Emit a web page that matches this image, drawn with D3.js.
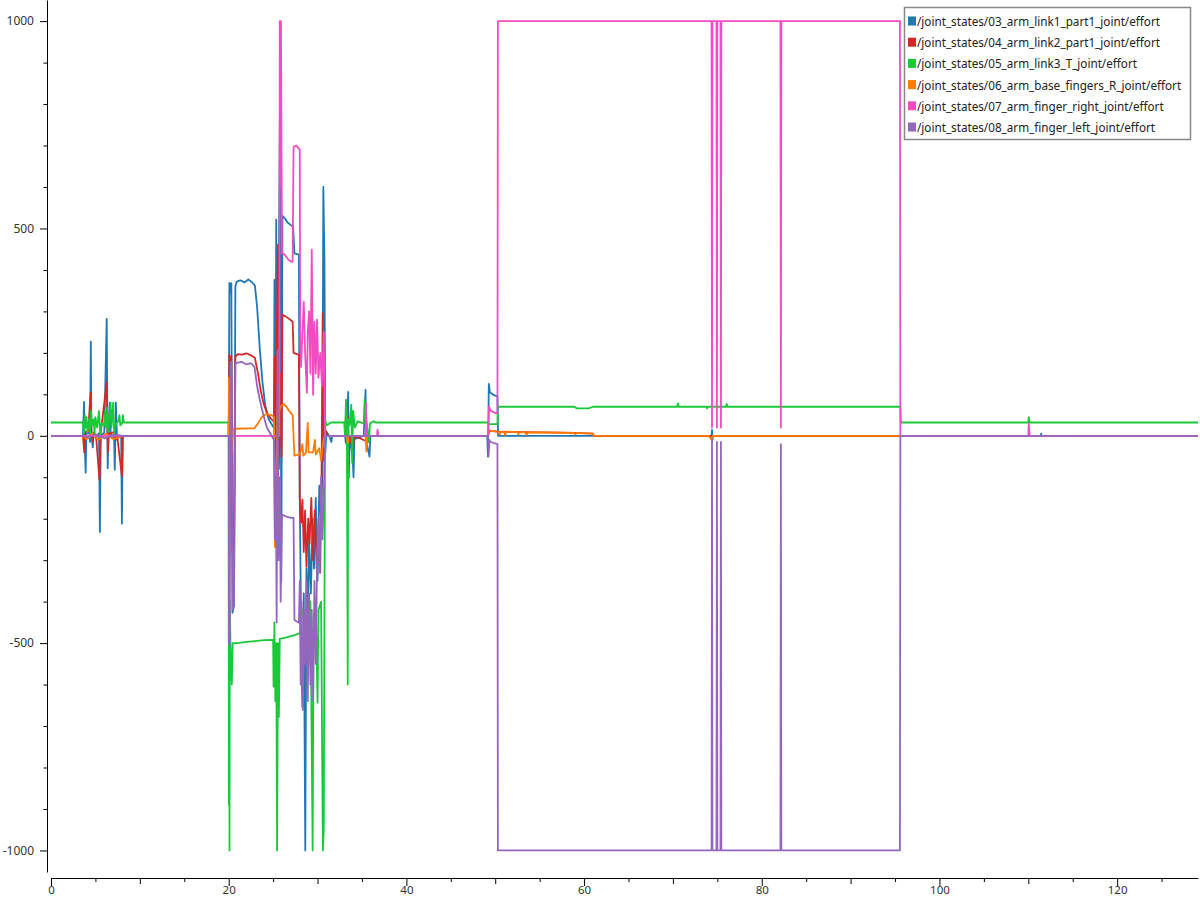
<!DOCTYPE html>
<html><head><meta charset="utf-8">
<script src="https://cdn.jsdelivr.net/npm/d3@7"></script>
<style>body{margin:0;background:#fff;} svg{display:block;font-family:"Noto Sans",sans-serif;}</style>
</head><body><svg id="c" width="1200" height="900"></svg>
<script>
const seriesNames = [
  "/joint_states/03_arm_link1_part1_joint/effort",
  "/joint_states/04_arm_link2_part1_joint/effort",
  "/joint_states/05_arm_link3_T_joint/effort",
  "/joint_states/06_arm_base_fingers_R_joint/effort",
  "/joint_states/07_arm_finger_right_joint/effort",
  "/joint_states/08_arm_finger_left_joint/effort"
];
const seriesColors = ["#1f77b4","#d62728","#1ac938","#ff7c00","#f14cc1","#9467bd"];

// [time (s), effort]
const link1 = [[0,0],[3.6,0],[3.72,82],[3.78,-5],[3.9,-89],[3.98,5],[4.3,8],[4.4,-15],[4.48,227],[4.55,8],[4.7,-28],[4.8,4],[5.1,-5],[5.4,6],[5.5,-232],[5.6,0],[6.0,8],[6.27,282],[6.38,-78],[6.48,8],[6.62,80],[6.72,4],[7.1,-5],[7.18,-82],[7.3,80],[7.42,0],[7.9,-5],[7.98,-212],[8.08,0],[8.3,0],
[20.0,0],[20.08,369],[20.2,345],[20.3,368],[20.42,-427],[20.6,-410],[20.75,360],[20.9,372],[21.3,375],[21.8,370],[22.2,377],[22.6,371],[22.95,362],[23.2,310],[23.5,210],[23.8,130],[24.1,75],[24.5,40],[25.0,22],[25.1,20],[25.15,376],[25.25,-120],[25.35,521],[25.45,-250],[25.6,250],[25.8,900],[25.92,-350],[26.05,530],[26.3,525],[26.6,515],[27.0,508],[27.25,504],[27.4,440],[27.9,437],[28.0,-150],[28.2,-560],[28.3,-654],[28.45,-380],[28.62,-1000],[28.75,-320],[28.9,-450],[29.05,-250],[29.25,-380],[29.45,-200],[29.6,-320],[29.8,-150],[30.0,-350],[30.2,-120],[30.4,-200],[30.55,-80],[30.65,600],[30.78,420],[30.88,-40],[31.0,10],[31.3,0],[31.55,-15],[31.65,0],[33.1,0],[33.18,-17],[33.28,0],[33.45,106],[33.52,-101],[33.62,0],[33.95,-50],[34.05,-100],[34.15,-8],[35.2,0],[35.4,111],[35.5,-15],[35.85,-50],[35.95,0],[37.0,0],
[49.1,0],[49.18,-50],[49.28,125],[49.4,105],[49.7,100],[50.0,97],[50.25,95],[50.32,0],[74.35,0],[74.4,14],[74.45,-10],[74.5,0],[111.4,0],[111.45,5],[111.5,0],[129.1,0]];

const link2 = [[0,0],[3.6,0],[3.75,-41],[3.85,8],[4.2,12],[4.45,104],[4.55,5],[4.7,-15],[4.8,8],[5.1,-8],[5.45,-106],[5.58,5],[6.27,128],[6.4,-39],[6.5,5],[7.0,8],[7.3,-10],[7.45,0],[7.98,-98],[8.08,0],
[20.0,0],[20.08,195],[20.2,180],[20.3,192],[20.42,-280],[20.6,-250],[20.75,190],[21.0,197],[21.5,196],[22.0,199],[22.5,194],[22.95,188],[23.3,150],[23.6,110],[23.9,80],[24.3,55],[24.8,40],[25.1,34],[25.18,190],[25.28,-60],[25.4,200],[25.55,461],[25.65,-80],[25.8,150],[25.95,-50],[26.05,292],[26.4,288],[26.8,282],[27.2,275],[27.3,200],[27.9,195],[28.0,-150],[28.15,-210],[28.3,-154],[28.45,-280],[28.6,-180],[28.75,-316],[28.95,-200],[29.1,-260],[29.3,-150],[29.5,-300],[29.7,-180],[29.9,-320],[30.1,-230],[30.3,-330],[30.45,-100],[30.58,296],[30.7,-60],[30.85,15],[31.2,0],[33.1,0],[33.2,55],[33.3,-30],[33.4,45],[33.5,-50],[33.6,0],[34.0,-35],[34.1,0],[35.7,-15],[35.85,0],
[49.2,0],[49.3,12],[50.3,10],[58.9,7],[61.0,5],[61.1,0],[129.1,0]];

const link3 = [[0,32],[3.6,32],[3.7,5],[3.8,50],[3.9,20],[4.0,45],[4.1,10],[4.3,40],[4.4,0],[4.5,60],[4.6,25],[4.8,40],[4.9,5],[5.0,45],[5.2,20],[5.4,60],[5.55,0],[5.7,30],[6.0,25],[6.1,60],[6.2,20],[6.3,67],[6.45,10],[6.55,40],[6.7,80],[6.8,20],[7.0,80],[7.1,5],[7.3,30],[7.6,35],[7.7,50],[7.8,25],[8.0,30],[8.1,50],[8.2,32],
[20.0,32],[20.02,-890],[20.06,-500],[20.09,-1000],[20.13,-400],[20.2,-505],[20.35,-600],[20.45,-500],[21.0,-500],[22.0,-497],[23.0,-495],[24.0,-493],[25.0,-492],[25.05,-605],[25.15,-450],[25.25,-640],[25.35,-500],[25.45,-1000],[25.55,-500],[25.65,-678],[25.75,-490],[26.5,-486],[27.5,-480],[28.0,-476],[28.15,-450],[28.3,-420],[28.6,-440],[28.9,-430],[29.2,-400],[29.45,-1000],[29.55,-440],[29.8,-410],[30.0,-644],[30.1,-420],[30.4,-400],[30.6,-1000],[30.7,-950],[30.85,40],[31.0,25],[31.5,32],
[33.0,32],[33.1,0],[33.2,87],[33.3,20],[33.4,-600],[33.45,40],[33.6,25],[33.8,75],[33.9,-65],[34.0,60],[34.2,20],[34.5,35],[35.2,30],[35.3,87],[35.4,50],[35.6,20],[35.8,-15],[35.9,30],[36.3,35],[36.5,32],
[49.1,32],[49.4,28],[50.25,28],[50.3,70],[58.9,70],[59.2,66],[60.5,66],[61.0,70],[70.5,70],[70.55,78],[70.65,70],[73.8,70],[73.85,66],[73.95,70],[76.0,70],[76.05,77],[76.15,70],[95.6,70],[95.65,32],[110.0,32],[110.05,45],[110.15,32],[129.1,32]];

const fingersR = [[0,0],[3.6,0],[4.0,-8],[4.6,6],[5.3,-10],[6.2,5],[7.0,-8],[8.1,0],
[20.0,0],[20.03,140],[20.1,0],[20.3,-50],[20.5,17],[21,17],[22,18],[22.9,18],[23.3,30],[23.7,45],[24.2,52],[24.8,50],[25.1,45],[25.2,-268],[25.35,-100],[25.5,70],[25.6,20],[25.7,60],[25.9,72],[26.2,76],[26.5,70],[26.8,60],[27.2,50],[27.4,-48],[28.0,-45],[28.3,-20],[28.4,-48],[28.7,-40],[28.9,31],[29.0,-40],[29.5,-40],[29.7,-10],[29.8,-45],[30.2,-30],[30.4,-60],[30.6,-20],[30.8,0],[33.3,0],[33.4,-17],[33.5,0],[35.4,0],[35.5,-38],[35.6,0],
[49.2,0],[49.3,14],[49.5,12],[50.3,10],[50.5,3],[50.6,10],[51.0,10],[51.1,2],[51.3,10],[52.5,9],[52.6,3],[52.7,9],[53.4,8],[53.5,2],[53.7,8],[56.0,8],[58.9,7],[59.0,3],[59.2,7],[61.0,5],[61.1,0],[74.0,0],[74.3,-8],[74.5,0],[129.1,0]];

const fingerRight = [[0,0],[25.7,0],[25.75,1000],[25.82,600],[25.88,1000],[26.0,440],[26.3,437],[26.7,425],[27.0,420],[27.2,420],[27.3,697],[27.6,700],[28.0,690],[28.05,224],[28.15,166],[28.3,250],[28.45,323],[28.6,200],[28.8,104],[28.9,250],[29.05,300],[29.2,150],[29.35,449],[29.5,99],[29.65,275],[29.8,150],[29.95,280],[30.1,140],[30.3,200],[30.5,120],[30.7,250],[30.85,0],[35.4,0],[35.45,80],[35.55,0],[36.7,0],[36.75,15],[36.85,0],
[49.2,0],[49.3,70],[49.5,60],[50.0,55],[50.25,55],[50.3,1000],[74.35,1000],[74.4,20],[74.45,1000],[74.9,1000],[74.95,20],[75.0,1000],[75.35,1000],[75.4,20],[75.45,1000],[82.1,1000],[82.15,20],[82.2,1000],[95.55,1000],[95.6,0],[110.0,0],[110.05,30],[110.15,0],[129.1,0]];

const fingerLeft = [[0,0],[3.6,0],[4.2,-5],[5.0,4],[6.0,-6],[7.2,3],[8.1,0],
[20.0,0],[20.02,-500],[20.08,-100],[20.12,-508],[20.2,170],[20.3,178],[20.45,-420],[20.6,-400],[20.75,175],[21.5,178],[22.0,172],[22.5,175],[22.9,166],[23.2,120],[23.5,87],[23.9,50],[24.3,20],[24.7,5],[25.1,-10],[25.2,-250],[25.3,-100],[25.4,-450],[25.5,207],[25.6,-300],[25.75,-100],[25.85,-400],[26.0,-190],[26.5,-195],[27.0,-198],[27.3,-198],[27.4,-444],[27.9,-451],[28.0,-350],[28.1,-600],[28.2,-400],[28.35,-661],[28.5,-420],[28.6,-550],[28.75,-350],[28.9,-640],[29.05,-380],[29.2,-600],[29.35,-420],[29.5,-640],[29.65,-350],[29.8,-550],[29.95,-300],[30.1,-200],[30.25,-330],[30.4,-100],[30.55,-250],[30.7,-150],[30.85,0],
[49.2,0],[49.25,-50],[49.35,-10],[49.5,-15],[50.25,-20],[50.3,-1000],[74.35,-1000],[74.4,-10],[74.45,-1000],[74.9,-1000],[74.95,-15],[75.0,-1000],[75.35,-1000],[75.4,-15],[75.45,-1000],[82.1,-1000],[82.15,-20],[82.2,-1000],[95.55,-1000],[95.6,0],[129.1,0]];

const seriesData = [link1, link2, link3, fingersR, fingerRight, fingerLeft];

const xMajorTicks = [0,20,40,60,80,100,120];
const xMediumTicks = [10,30,50,70,90,110];
const xMinorTicks = [5,15,25,35,45,55,65,75,85,95,105,115,125];
const yMajorTicks = [-1000,-500,0,500,1000];
const yMinorTicks = [-900,-800,-700,-600,-400,-300,-200,-100,100,200,300,400,600,700,800,900];

const svg = d3.select("#c");
const x = d3.scaleLinear().domain([0,129.1]).range([51,1198]);
const y = d3.scaleLinear().domain([-1052,1051]).range([872,0]);

svg.append("defs").append("clipPath").attr("id","plot")
  .append("rect").attr("x",51).attr("y",0).attr("width",1147).attr("height",872);

const line = d3.line().x(d=>x(d[0])).y(d=>y(d[1]));
const lines = svg.append("g").attr("clip-path","url(#plot)");
seriesData.forEach((s,i)=>{
  lines.append("path").datum(s).attr("d",line)
    .attr("fill","none").attr("stroke",seriesColors[i])
    .attr("stroke-width",1.8).attr("stroke-linejoin","round");
});

function styleAxis(g){
  g.selectAll("path,line").attr("stroke","#000");
  g.selectAll("text").attr("font-size",12).attr("fill","#333").attr("font-family","'Noto Sans',sans-serif");
}
// Y axis
const gy = svg.append("g").attr("transform","translate(47,0)");
gy.call(d3.axisLeft(y).tickValues(yMajorTicks).tickSize(7).tickSizeOuter(0).tickPadding(6).tickFormat(d=>String(d)));
gy.append("g").call(d3.axisLeft(y).tickValues(yMinorTicks).tickSize(3.5).tickFormat("")).select(".domain").remove();
styleAxis(gy);
// X axis
const gx = svg.append("g").attr("transform","translate(0,878)");
gx.call(d3.axisBottom(x).tickValues(xMajorTicks).tickSize(8).tickSizeOuter(0).tickPadding(0).tickFormat(d=>String(d)));
gx.append("g").call(d3.axisBottom(x).tickValues(xMediumTicks).tickSize(6).tickFormat("")).select(".domain").remove();
gx.append("g").call(d3.axisBottom(x).tickValues(xMinorTicks).tickSize(4).tickFormat("")).select(".domain").remove();
styleAxis(gx);
gx.selectAll("text").attr("font-size",11.5);

// Legend
const lg = svg.append("g");
lg.append("rect").attr("x",904.5).attr("y",7.5).attr("width",286).attr("height",132)
  .attr("fill","#fff").attr("stroke","#888").attr("stroke-width",1.5);
seriesNames.forEach((n,i)=>{
  const ry = 21 + i*21.2;
  lg.append("rect").attr("x",908).attr("y",ry-4.5).attr("width",8).attr("height",9).attr("fill",seriesColors[i]);
  lg.append("text").attr("x",917).attr("y",ry).attr("dominant-baseline","central")
    .attr("font-size",11.7).attr("fill","#222").text(n);
});
</script></body></html>
